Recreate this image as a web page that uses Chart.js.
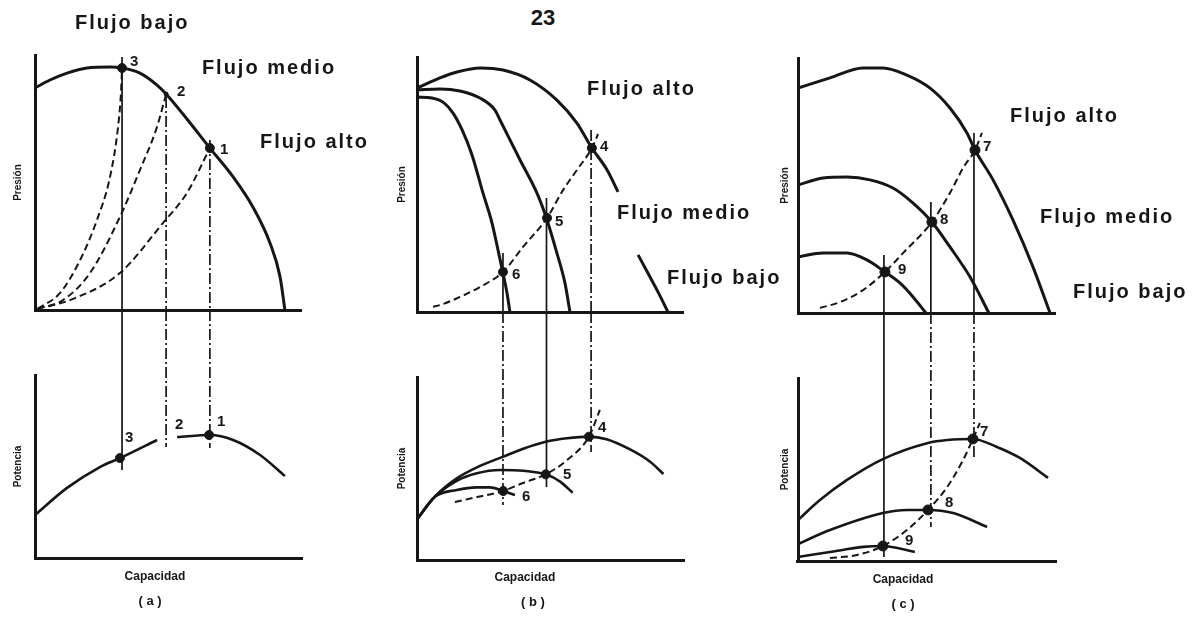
<!DOCTYPE html>
<html lang="es">
<head>
<meta charset="utf-8">
<title>Presión y potencia contra capacidad</title>
<script src="https://cdn.jsdelivr.net/npm/chart.js@4.4.1/dist/chart.umd.min.js"></script>
<style>
  html, body { margin: 0; background: #fff; }
  #page { position: relative; width: 1194px; height: 620px; overflow: hidden; background: #fff; }
  #page canvas { position: absolute; left: 0; top: 0; }
  #pageNo { position: absolute; left: 513px; top: 5px; width: 60px; text-align: center;
            font: bold 22px "Liberation Sans Narrow", "Liberation Sans", Arial, sans-serif; line-height: 26px; color: #161616; }
</style>
</head>
<body>
<div id="page">
  <div id="pageNo">23</div>
  <canvas id="colA" width="1194" height="620"></canvas>
  <canvas id="colB" width="1194" height="620"></canvas>
  <canvas id="colC" width="1194" height="620"></canvas>
</div>
<script>
const INK = '#161616';

// ---------- (a) ----------
const capCurvaA   = [0, 5.6, 12, 19.5, 28.1, 32.6, 39.3, 45.7, 49.1, 56.9, 65.5, 74.2, 81.6, 88, 91.8, 93.6];
const presionA    = [87.1, 90.2, 92.9, 94.9, 95.3, 94.9, 92.9, 88.2, 84.7, 74.9, 63.5, 52.2, 40.4, 26.3, 12.9, 0];
const capSis3A    = [1, 9.4, 16.9, 23.2, 28.1, 31.1, 32.2, 32.6];
const presSis3A   = [0.5, 6.7, 19.6, 35.3, 52.2, 71.8, 85.1, 94.9];
const capSis2A    = [1, 10.5, 20.6, 31.8, 39.3, 45.7, 49.1];
const presSis2A   = [0.5, 3.9, 14.5, 36.5, 54.9, 71.8, 84.7];
const capSis1A    = [1, 13.1, 31.8, 47.9, 56.9, 65.5];
const presSis1A   = [0.5, 3.9, 14.5, 34.1, 45.9, 63.5];
const capPuntosA  = [32.6, 49.1, 65.5];
const presPuntosA = [94.9, 84.7, 63.5];
const capPotA     = [0, 12, 24.3, 31.8, 45.7, 49.1, 53.2, 65.5, 74.2, 84.3, 93.6];
const potenciaA   = [23.5, 38.3, 49.7, 54.6, 64.5, null, 66.1, 67.2, 64.5, 56.3, 44.8];
const capPotPtsA  = [31.8, 65.2];
const potPtsA     = [54.6, 67.2];
const guiaCapA    = [32.6, 49.1, 65.5];
const guiaPresA   = [99.2, 83.5, 66.7];
const guiaPotA    = [48.1, 60.7, 60.1];

// ---------- (b) ----------
const capAltoB    = [0, 8.6, 15, 23.6, 32.2, 42.3, 52.4, 59.9, 65.5, 71.2, 75.3, 79, 82.8, 90.3, 94];
const presAltoB   = [87.8, 91.8, 94.1, 95.7, 94.9, 91, 83.1, 74.1, 64.3, 55.7, 47.1, null, 22.4, 7.8, 0];
const capMedioB   = [0, 8.6, 16.1, 23.6, 29.2, 31.1, 38.6, 44.9, 48.7, 52.4, 55.4, 57.3];
const presMedioB  = [87.1, 87.5, 86.7, 83.9, 79.2, 75.3, 59.6, 46.7, 36.1, 23.1, 11.4, 0];
const capBajoB    = [0, 5.6, 10.1, 13.5, 16.9, 20.6, 24.7, 28.1, 30.3, 32.2, 33.7, 34.8];
const presBajoB   = [84.3, 83.9, 82, 78, 71.4, 61.6, 46.7, 34.9, 24.5, 15.3, 7.5, 0];
const capSisB     = [6, 8.6, 16.1, 23.6, 32.2, 39.7, 48.7, 54.7, 59.9, 65.5, 67.8];
const presSisB    = [2, 2.7, 5.9, 9.8, 15.7, 25.5, 36.9, 47.8, 55.7, 64.3, 69.8];
const capPuntosB  = [65.5, 48.7, 32.2];
const presPuntosB = [64.3, 36.9, 15.7];
const capPotAltoB = [0, 6.7, 14.9, 23.6, 32.3, 39.8, 48.2, 56.1, 64.4, 71, 79.8, 87.3, 92.3];
const potAltoB    = [22.2, 34.6, 44.6, 51.4, 56.5, 60.8, 64.6, 66.5, 67.4, 66, 60.4, 53.7, 47];
const capPotMedB  = [0, 6.7, 14.9, 22.4, 31.1, 39.8, 48.2, 53.6, 58.3];
const potMedioB   = [22.2, 34.6, 43.3, 47.4, 49.2, 48.8, 46.8, 42.8, 36.8];
const capPotBajB  = [0, 6.7, 14.9, 22.4, 27.3, 32.3, 36.7];
const potBajoB    = [22.2, 34.6, 38.3, 39.7, 39.7, 37.7, 35.5];
const capPotSisB  = [14.2, 22.5, 32.3, 39.7, 48.2, 56.2, 64.4, 68.5];
const potSisB     = [31.7, 34.4, 37.7, 42.1, 46.8, 54.6, 67.4, 82];
const capPotPtsB  = [64.4, 48.2, 32.3];
const potPtsB     = [67.4, 46.8, 37.7];
const guiaCapB    = [32.2, 48.5, 65.2];
const guiaPresB   = [23.1, 44.7, 71.4];
const guiaPotB    = [30.1, 39.9, 59];

// ---------- (c) ----------
const capAltoC    = [0, 12.4, 25.2, 32.9, 42.2, 51.2, 58.9, 65.5, 68.6, 75.6, 83.3, 91.1, 97.7];
const presAltoC   = [88.2, 92.2, 96.1, 96.1, 93.3, 88.2, 80.4, 70.6, 63.9, 52.2, 36.5, 18, 0];
const capMedioC   = [0, 9.7, 19, 27.9, 36.8, 44.6, 51.9, 58.9, 66.7, 74];
const presMedioC  = [50.2, 52.9, 53.3, 52.2, 49, 43.1, 35.7, 25.9, 14.1, 0];
const capBajoC    = [0, 9.7, 19, 26.7, 33.7, 39.5, 44.6, 49.6];
const presBajoC   = [22, 23.5, 23.5, 20.8, 16.1, 11.8, 6.3, 0];
const capSisC     = [8.5, 16.3, 25.2, 33.7, 40.7, 51.9, 58.9, 64, 68.6, 71.3];
const presSisC    = [2, 4.3, 9, 16.1, 23.5, 35.7, 47.1, 56.9, 63.9, 70.6];
const capPuntosC  = [68.6, 51.9, 33.7];
const presPuntosC = [63.9, 35.7, 16.1];
const capPotAltoC = [0, 8.5, 19, 32.9, 50.4, 57.8, 67.8, 77.1, 86, 96.9];
const potAltoC    = [22.4, 33.3, 44.3, 55.7, 64.5, 66.1, 66.7, 62.3, 56.3, 45.4];
const capPotMedC  = [0, 12.4, 32.9, 42.2, 50.4, 60.1, 73.3];
const potMedioC   = [9.3, 16.9, 26.2, 27.9, 27.9, 26.2, 18.6];
const capPotBajC  = [0, 12.4, 25.2, 32.9, 45.3];
const potBajoC    = [2.2, 4.9, 7.7, 8.2, 4.9];
const capPotSisC  = [12.4, 22.9, 32.9, 42.2, 50.4, 57.8, 64, 67.8, 70.5];
const potSisC     = [1.6, 3.3, 8.2, 16.9, 27.9, 40.4, 55.2, 66.7, 75.4];
const capPotPtsC  = [67.8, 50.4, 32.9];
const potPtsC     = [66.7, 27.9, 8.2];
const guiaCapC    = [33.3, 51.5, 68.2];
const guiaPresC   = [22.7, 43.5, 70.6];
const guiaPotC    = [2.2, 18.6, 55.2];

// ---------- helpers ----------
function pts(xs, ys) {
  return xs.map((x, i) => ({ x: x, y: ys[i] }));
}

function curva(xs, ys, axis, width) {
  return {
    data: pts(xs, ys), yAxisID: axis,
    borderColor: INK, borderWidth: width || 3,
    pointRadius: 0, cubicInterpolationMode: 'monotone', fill: false
  };
}

function sistema(xs, ys, axis) {
  return {
    data: pts(xs, ys), yAxisID: axis,
    borderColor: INK, borderWidth: 2, borderDash: [7, 4],
    pointRadius: 0, cubicInterpolationMode: 'monotone', fill: false
  };
}

function puntos(xs, ys, axis, radius) {
  return {
    data: pts(xs, ys), yAxisID: axis, showLine: false,
    pointRadius: radius || 4.5, pointBackgroundColor: INK, pointBorderColor: INK
  };
}

const DASHES = { solid: [], dashdot: [11, 3, 2, 3] };

const TEXT = {
  flujo: { font: 'bold 20px "Liberation Sans", Arial, sans-serif', spacing: '2px', align: 'left' },
  num:   { font: 'bold 15px "Liberation Sans", Arial, sans-serif', spacing: '0px', align: 'left' },
  cap:   { font: 'bold 12px "Liberation Sans Narrow", "Liberation Sans", Arial, sans-serif', spacing: '0px', align: 'center' },
  panel: { font: 'bold 13px "Liberation Sans", Arial, sans-serif', spacing: '0px', align: 'center' }
};

// vertical guide lines from the pressure panel down to the power panel, plus text labels
function extras(guias, etiquetas) {
  return {
    id: 'extras',
    beforeDatasetsDraw(chart) {
      const { ctx, scales } = chart;
      const base = scales.yTop.getPixelForValue(0);
      ctx.save();
      ctx.strokeStyle = INK;
      ctx.lineWidth = 1.7;
      guias.x.forEach((x, i) => {
        const px = scales.x.getPixelForValue(x);
        // part inside the pressure panel
        ctx.setLineDash(DASHES[guias.arriba[i]]);
        ctx.beginPath();
        ctx.moveTo(px, scales.yTop.getPixelForValue(guias.desde[i]));
        ctx.lineTo(px, base);
        ctx.stroke();
        // part going down into the power panel
        ctx.setLineDash(DASHES[guias.abajo[i]]);
        ctx.beginPath();
        ctx.moveTo(px, base);
        ctx.lineTo(px, scales.yBot.getPixelForValue(guias.hasta[i]));
        ctx.stroke();
      });
      ctx.restore();
    },
    afterDraw(chart) {
      const { ctx, scales } = chart;
      ctx.save();
      ctx.fillStyle = INK;
      ctx.textBaseline = 'middle';
      etiquetas.forEach(([txt, ax, x, y, kind]) => {
        const st = TEXT[kind];
        ctx.font = st.font;
        ctx.textAlign = st.align;
        if ('letterSpacing' in ctx) ctx.letterSpacing = st.spacing;
        ctx.fillText(txt, scales.x.getPixelForValue(x), scales[ax].getPixelForValue(y));
      });
      ctx.restore();
    }
  };
}

const AXIS_FONT = { family: '"Liberation Sans Narrow", "Liberation Sans", Arial, sans-serif', size: 10, weight: 'bold' };

function columna(id, padding, titlePad, datasets, guias, etiquetas) {
  // left-stacked axes are laid out in reverse order: the last key ends up on top
  return new Chart(document.getElementById(id), {
    type: 'line',
    data: { datasets: datasets },
    options: {
      responsive: false,
      animation: false,
      events: [],
      layout: { padding: padding },
      plugins: { legend: { display: false }, tooltip: { enabled: false } },
      scales: {
        x: {
          type: 'linear', min: 0, max: 100,
          ticks: { display: false },
          grid: { display: false, drawTicks: false },
          border: { display: true, color: INK, width: 3 }
        },
        yBot: {
          type: 'linear', position: 'left', stack: 'col', stackWeight: 183,
          min: 0, max: 100,
          ticks: { display: false },
          grid: { display: false, drawTicks: false },
          border: { display: true, color: INK, width: 3 },
          title: { display: true, text: 'Potencia', color: INK, font: AXIS_FONT, padding: titlePad }
        },
        yGap: {
          type: 'linear', position: 'left', stack: 'col', stackWeight: 65,
          display: false, min: 0, max: 1
        },
        yTop: {
          type: 'linear', position: 'left', stack: 'col', stackWeight: 255,
          min: 0, max: 100,
          ticks: { display: false },
          afterBuildTicks: s => { s.ticks = [{ value: 0 }]; },
          grid: { color: INK, lineWidth: 3, drawTicks: false },
          border: { display: true, color: INK, width: 3 },
          title: { display: true, text: 'Presión', color: INK, font: AXIS_FONT, padding: titlePad }
        }
      }
    },
    plugins: [extras(guias, etiquetas)]
  });
}

// ---------- (a) ----------
columna('colA',
  { left: 0, right: 892, top: 55, bottom: 62 },
  { top: 12, bottom: 11 },
  [
    curva(capCurvaA, presionA, 'yTop', 3),
    sistema(capSis3A, presSis3A, 'yTop'),
    sistema(capSis2A, presSis2A, 'yTop'),
    sistema(capSis1A, presSis1A, 'yTop'),
    curva(capPotA, potenciaA, 'yBot', 2.6),
    Object.assign(puntos(capPuntosA, presPuntosA, 'yTop'), { pointRadius: [4.5, 2, 4.5] }),
    puntos(capPotPtsA, potPtsA, 'yBot')
  ],
  { x: guiaCapA, desde: guiaPresA, hasta: guiaPotA,
    arriba: ['solid', 'dashdot', 'dashdot'], abajo: ['solid', 'dashdot', 'dashdot'] },
  [
    ['Flujo bajo', 'yTop', 15, 112.5, 'flujo'],
    ['Flujo medio', 'yTop', 62.5, 94.9, 'flujo'],
    ['Flujo alto', 'yTop', 84.3, 65.5, 'flujo'],
    ['3', 'yTop', 35.6, 97.3, 'num'],
    ['2', 'yTop', 53.2, 85.5, 'num'],
    ['1', 'yTop', 69.3, 62.7, 'num'],
    ['3', 'yBot', 33.7, 65.6, 'num'],
    ['2', 'yBot', 52.4, 72.7, 'num'],
    ['1', 'yBot', 68.2, 74.3, 'num'],
    ['Capacidad', 'yBot', 44.9, -10.4, 'cap'],
    ['( a )', 'yBot', 43.1, -24, 'panel']
  ]
);

// ---------- (b) ----------
columna('colB',
  { left: 385, right: 510, top: 57, bottom: 60 },
  { top: 11, bottom: 9 },
  [
    curva(capAltoB, presAltoB, 'yTop', 3),
    curva(capMedioB, presMedioB, 'yTop', 3),
    curva(capBajoB, presBajoB, 'yTop', 3),
    sistema(capSisB, presSisB, 'yTop'),
    curva(capPotAltoB, potAltoB, 'yBot', 2.6),
    curva(capPotMedB, potMedioB, 'yBot', 2.6),
    curva(capPotBajB, potBajoB, 'yBot', 2.6),
    sistema(capPotSisB, potSisB, 'yBot'),
    puntos(capPuntosB, presPuntosB, 'yTop'),
    puntos(capPotPtsB, potPtsB, 'yBot')
  ],
  { x: guiaCapB, desde: guiaPresB, hasta: guiaPotB,
    arriba: ['solid', 'solid', 'dashdot'], abajo: ['dashdot', 'solid', 'dashdot'] },
  [
    ['Flujo alto', 'yTop', 63.7, 87.1, 'flujo'],
    ['Flujo medio', 'yTop', 74.9, 38.8, 'flujo'],
    ['Flujo bajo', 'yTop', 93.6, 13.3, 'flujo'],
    ['4', 'yTop', 68.5, 64.7, 'num'],
    ['5', 'yTop', 51.7, 35.3, 'num'],
    ['6', 'yTop', 35.6, 14.5, 'num'],
    ['4', 'yBot', 67.8, 72.1, 'num'],
    ['5', 'yBot', 54.7, 46.4, 'num'],
    ['6', 'yBot', 39.3, 34.4, 'num'],
    ['Capacidad', 'yBot', 40.4, -9.8, 'cap'],
    ['( b )', 'yBot', 43.4, -23, 'panel']
  ]
);

// ---------- (c) ----------
columna('colC',
  { left: 775, right: 138, top: 58, bottom: 59 },
  { top: 4, bottom: 7 },
  [
    curva(capAltoC, presAltoC, 'yTop', 3),
    curva(capMedioC, presMedioC, 'yTop', 3),
    curva(capBajoC, presBajoC, 'yTop', 3),
    sistema(capSisC, presSisC, 'yTop'),
    curva(capPotAltoC, potAltoC, 'yBot', 2.6),
    curva(capPotMedC, potMedioC, 'yBot', 2.6),
    curva(capPotBajC, potBajoC, 'yBot', 2.6),
    sistema(capPotSisC, potSisC, 'yBot'),
    puntos(capPuntosC, presPuntosC, 'yTop', 5),
    puntos(capPotPtsC, potPtsC, 'yBot', 5)
  ],
  { x: guiaCapC, desde: guiaPresC, hasta: guiaPotC,
    arriba: ['solid', 'solid', 'solid'], abajo: ['solid', 'dashdot', 'dashdot'] },
  [
    ['Flujo alto', 'yTop', 82.2, 76.9, 'flujo'],
    ['Flujo medio', 'yTop', 93.8, 37.3, 'flujo'],
    ['Flujo bajo', 'yTop', 106.6, 8.2, 'flujo'],
    ['7', 'yTop', 71.7, 65.1, 'num'],
    ['8', 'yTop', 55, 36.5, 'num'],
    ['9', 'yTop', 38.8, 16.9, 'num'],
    ['7', 'yBot', 70.5, 70.5, 'num'],
    ['8', 'yBot', 57, 31.7, 'num'],
    ['9', 'yBot', 41.5, 10.9, 'num'],
    ['Capacidad', 'yBot', 40.7, -10.4, 'cap'],
    ['( c )', 'yBot', 40.7, -24, 'panel']
  ]
);
</script>
</body>
</html>
